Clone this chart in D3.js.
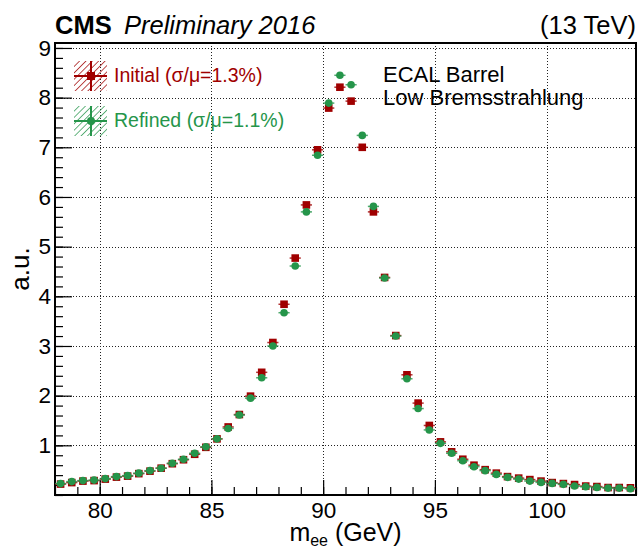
<!DOCTYPE html>
<html>
<head>
<meta charset="utf-8">
<script src="https://cdn.jsdelivr.net/npm/d3@7"></script>
<style>
  body { margin: 0; background: #fff; }
  text { font-family: "Liberation Sans", Arial, sans-serif; }
</style>
</head>
<body>
<div class="chart"></div>
<script>
// bin centres (GeV), 0.5 GeV bins
const binCentres = [78.25, 78.75, 79.25, 79.75, 80.25, 80.75, 81.25, 81.75, 82.25, 82.75,
  83.25, 83.75, 84.25, 84.75, 85.25, 85.75, 86.25, 86.75, 87.25, 87.75,
  88.25, 88.75, 89.25, 89.75, 90.25, 90.75, 91.25, 91.75, 92.25, 92.75,
  93.25, 93.75, 94.25, 94.75, 95.25, 95.75, 96.25, 96.75, 97.25, 97.75,
  98.25, 98.75, 99.25, 99.75, 100.25, 100.75, 101.25, 101.75, 102.25, 102.75,
  103.25, 103.75];

const initialVals = [0.22, 0.25, 0.28, 0.29, 0.32, 0.36, 0.38, 0.43, 0.48, 0.54,
  0.63, 0.71, 0.82, 0.96, 1.13, 1.37, 1.62, 1.99, 2.47, 3.07,
  3.84, 4.77, 5.84, 6.95, 7.79, 8.21, 7.93, 7.00, 5.70, 4.38,
  3.21, 2.42, 1.85, 1.40, 1.07, 0.87, 0.72, 0.60, 0.51, 0.44,
  0.37, 0.34, 0.31, 0.28, 0.25, 0.23, 0.21, 0.18, 0.17, 0.15,
  0.15, 0.145];

const refinedVals = [0.23, 0.27, 0.29, 0.30, 0.33, 0.37, 0.39, 0.44, 0.49, 0.54,
  0.64, 0.72, 0.84, 0.97, 1.13, 1.34, 1.61, 1.95, 2.36, 3.00,
  3.67, 4.61, 5.70, 6.84, 7.89, 8.45, 8.26, 7.24, 5.81, 4.37,
  3.20, 2.34, 1.74, 1.31, 1.04, 0.84, 0.69, 0.57, 0.49, 0.415,
  0.355, 0.32, 0.28, 0.254, 0.234, 0.214, 0.18, 0.165, 0.153, 0.139,
  0.139, 0.125];

const xTicks = [80, 85, 90, 95, 100];
const yTicks = [1, 2, 3, 4, 5, 6, 7, 8, 9];
const legendLabels = ["Initial (\u03c3/\u03bc=1.3%)", "Refined (\u03c3/\u03bc=1.1%)"];

const red = "#a00000", green = "#25954a";
const binHalf = 0.25;

const W = 639, H = 550;
const margin = {left: 55, right: 636, top: 43, bottom: 495};

const svg = d3.select(".chart").append("svg")
  .attr("width", W).attr("height", H);

const x = d3.scaleLinear().domain([78, 104]).range([margin.left, margin.right]);
const y = d3.scaleLinear().domain([0, 9.1]).range([margin.bottom, margin.top]);
const snap = v => Math.round(v) + 0.5;

// hatch patterns for legend
const defs = svg.append("defs");
[["hatchRed", red], ["hatchGreen", green]].forEach(([id, c]) => {
  const p = defs.append("pattern").attr("id", id)
    .attr("patternUnits", "userSpaceOnUse").attr("width", 4.5).attr("height", 4.5)
    .attr("patternTransform", "rotate(45)");
  p.append("line").attr("x1", 0).attr("y1", 0).attr("x2", 0).attr("y2", 4.5)
    .attr("stroke", c).attr("stroke-width", 1.4);
});

// grid
const grid = svg.append("g").attr("stroke", "#222").attr("stroke-width", 1)
  .attr("stroke-dasharray", "1,2");
grid.selectAll(".gx").data(xTicks).enter().append("line")
  .attr("x1", d => snap(x(d))).attr("x2", d => snap(x(d)))
  .attr("y1", margin.top).attr("y2", margin.bottom);
grid.selectAll(".gy").data(yTicks).enter().append("line")
  .attr("x1", margin.left).attr("x2", margin.right)
  .attr("y1", d => snap(y(d))).attr("y2", d => snap(y(d)));

// minor ticks
svg.append("g").attr("transform", `translate(0,${margin.bottom})`)
  .call(d3.axisBottom(x).tickValues(d3.range(78, 104.01, 1)).tickSize(-8).tickFormat(""))
  .call(g => g.select(".domain").remove())
  .call(g => g.selectAll("line").attr("stroke", "#000").attr("stroke-width", 1.2));
svg.append("g").attr("transform", `translate(${margin.left},0)`)
  .call(d3.axisLeft(y).tickValues(d3.range(0, 9.11, 0.2)).tickSize(-8).tickFormat(""))
  .call(g => g.select(".domain").remove())
  .call(g => g.selectAll("line").attr("stroke", "#000").attr("stroke-width", 1.2));

// major axes
const xAxis = svg.append("g").attr("transform", `translate(0,${margin.bottom})`)
  .call(d3.axisBottom(x).tickValues(xTicks).tickSize(-15).tickPadding(7).tickFormat(d3.format("d")));
xAxis.select(".domain").remove();
xAxis.selectAll("line").attr("stroke", "#000").attr("stroke-width", 1.2);
xAxis.selectAll("text").attr("font-size", 22.5).attr("fill", "#000")
  .attr("font-family", "Liberation Sans, Arial, sans-serif");

const yAxis = svg.append("g").attr("transform", `translate(${margin.left},0)`)
  .call(d3.axisLeft(y).tickValues(yTicks).tickSize(-17).tickPadding(4).tickFormat(d3.format("d")));
yAxis.select(".domain").remove();
yAxis.selectAll("line").attr("stroke", "#000").attr("stroke-width", 1.2);
yAxis.selectAll("text").attr("font-size", 22.5).attr("fill", "#000")
  .attr("font-family", "Liberation Sans, Arial, sans-serif");

// frame
svg.append("rect").attr("x", margin.left).attr("y", margin.top)
  .attr("width", margin.right - margin.left).attr("height", margin.bottom - margin.top)
  .attr("fill", "none").attr("stroke", "#000").attr("stroke-width", 2);

// data
function drawSeries(vals, color, shape) {
  const g = svg.append("g");
  const pts = binCentres.map((c, i) => ({x: c, v: vals[i]}));
  g.selectAll("line.h").data(pts).enter().append("line")
    .attr("x1", d => x(d.x - binHalf)).attr("x2", d => x(d.x + binHalf))
    .attr("y1", d => y(d.v)).attr("y2", d => y(d.v))
    .attr("stroke", color).attr("stroke-width", 1.5).attr("opacity", 0.8);
  if (shape === "square") {
    g.selectAll("rect").data(pts).enter().append("rect")
      .attr("x", d => x(d.x) - 3.8).attr("y", d => y(d.v) - 3.8)
      .attr("width", 7.6).attr("height", 7.6).attr("fill", color);
  } else {
    g.selectAll("circle").data(pts).enter().append("circle")
      .attr("cx", d => x(d.x)).attr("cy", d => y(d.v)).attr("r", 3.8)
      .attr("fill", color);
  }
}
drawSeries(initialVals, red, "square");
drawSeries(refinedVals, green, "circle");

// legend
const legendRows = [
  {label: legendLabels[0], color: red, hatch: "url(#hatchRed)", shape: "square", cy: 76},
  {label: legendLabels[1], color: green, hatch: "url(#hatchGreen)", shape: "circle", cy: 121}
];
legendRows.forEach(r => {
  const g = svg.append("g");
  g.append("rect").attr("x", 74).attr("y", r.cy - 15).attr("width", 33).attr("height", 30)
    .attr("fill", r.hatch);
  g.append("line").attr("x1", 74).attr("x2", 107).attr("y1", r.cy).attr("y2", r.cy)
    .attr("stroke", r.color).attr("stroke-width", 2);
  g.append("line").attr("x1", 91).attr("x2", 91).attr("y1", r.cy - 15).attr("y2", r.cy + 15)
    .attr("stroke", r.color).attr("stroke-width", 2);
  if (r.shape === "square") {
    g.append("rect").attr("x", 87).attr("y", r.cy - 4).attr("width", 8).attr("height", 8).attr("fill", r.color);
  } else {
    g.append("circle").attr("cx", 91).attr("cy", r.cy).attr("r", 4).attr("fill", r.color);
  }
  g.append("text").attr("x", 114).attr("y", r.cy + 6).attr("font-size", 19.5)
    .attr("fill", r.color).text(r.label);
});

// header
svg.append("text").attr("x", 55).attr("y", 34).attr("font-size", 25.5)
  .attr("font-weight", "bold").text("CMS");
svg.append("text").attr("x", 124).attr("y", 34).attr("font-size", 25.5)
  .attr("font-style", "italic").text("Preliminary 2016");
svg.append("text").attr("x", 636).attr("y", 34).attr("font-size", 25.5)
  .attr("text-anchor", "end").text("(13 TeV)");

svg.append("text").attr("x", 383).attr("y", 82).attr("font-size", 22).text("ECAL Barrel");
svg.append("text").attr("x", 383).attr("y", 105).attr("font-size", 22).text("Low Bremsstrahlung");

// axis titles
const xt = svg.append("text").attr("x", (margin.left + margin.right) / 2).attr("y", 541)
  .attr("text-anchor", "middle").attr("font-size", 25);
xt.append("tspan").text("m");
xt.append("tspan").attr("font-size", 16).attr("dy", 5).text("ee");
xt.append("tspan").attr("dy", -5).text(" (GeV)");

svg.append("text").attr("transform", `translate(29,${(margin.top + margin.bottom) / 2}) rotate(-90)`)
  .attr("text-anchor", "middle").attr("font-size", 26).text("a.u.");
</script>
</body>
</html>
